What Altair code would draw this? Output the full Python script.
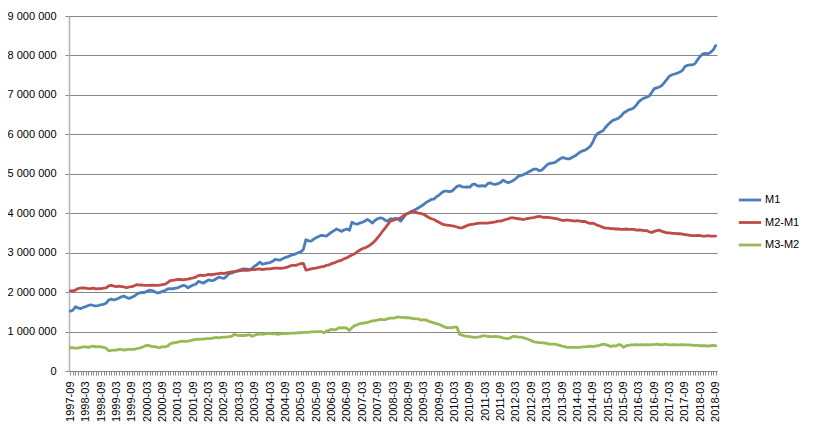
import altair as alt
import pandas as pd

# Values in thousands, monthly from 1997-09 to 2018-09 (one row = Sep..Aug)
m1 = [
    1520, 1540, 1630, 1600, 1580, 1610, 1630, 1660, 1680, 1660, 1650, 1660,
    1680, 1690, 1720, 1800, 1820, 1800, 1820, 1850, 1880, 1900, 1860, 1840,
    1870, 1900, 1950, 1980, 1990, 1990, 2020, 2050, 2040, 2010, 1980, 1990,
    2020, 2040, 2080, 2090, 2080, 2100, 2110, 2140, 2170, 2160, 2110, 2150,
    2180, 2200, 2270, 2250, 2230, 2270, 2310, 2290, 2300, 2340, 2380, 2360,
    2350, 2400, 2470, 2480, 2510, 2530, 2560, 2580, 2590, 2580, 2570, 2600,
    2660, 2700, 2760, 2710, 2720, 2740, 2750, 2780, 2830, 2820, 2810, 2850,
    2880, 2900, 2930, 2950, 2970, 3000, 3020, 3080, 3330, 3300, 3290, 3340,
    3380, 3410, 3440, 3430, 3420, 3470, 3520, 3560, 3600, 3570, 3540, 3580,
    3600, 3570, 3770, 3740, 3720, 3750, 3770, 3800, 3840, 3800, 3750, 3820,
    3860, 3880, 3870, 3820, 3800, 3860, 3850, 3870, 3850, 3800, 3880, 3970,
    4000, 4040, 4070, 4100, 4140, 4180, 4220, 4280, 4310, 4350, 4360, 4420,
    4460, 4520, 4560, 4560, 4550, 4560, 4620, 4680, 4700, 4670, 4660, 4670,
    4660, 4730, 4740, 4690, 4690, 4700, 4680, 4750, 4770, 4740, 4730, 4750,
    4780, 4840, 4800, 4770, 4800, 4830, 4880, 4940, 4960, 4980, 5010, 5050,
    5080, 5120, 5120, 5080, 5090, 5150, 5220, 5260, 5270, 5280, 5320, 5370,
    5410, 5400, 5380, 5380, 5420, 5450, 5500, 5550, 5580, 5600, 5640, 5700,
    5800, 5950, 6030, 6060, 6090, 6180, 6250, 6310, 6360, 6380, 6410, 6460,
    6540, 6580, 6620, 6640, 6670, 6740, 6830, 6880, 6920, 6940, 6970, 7060,
    7160, 7180, 7200, 7240, 7320, 7400, 7480, 7510, 7530, 7550, 7580, 7620,
    7720, 7750, 7760, 7760, 7800, 7900, 7980, 8040, 8050, 8040, 8080, 8140,
    8250,
]

m2_m1 = [
    2030, 2030, 2050, 2090, 2100, 2110, 2100, 2090, 2090, 2100, 2080, 2090,
    2090, 2100, 2110, 2160, 2170, 2150, 2140, 2150, 2140, 2130, 2110, 2130,
    2140, 2160, 2190, 2180, 2180, 2170, 2170, 2170, 2180, 2170, 2170, 2180,
    2190, 2200, 2240, 2290, 2300, 2310, 2320, 2320, 2310, 2320, 2330, 2350,
    2360, 2380, 2420, 2430, 2420, 2430, 2450, 2440, 2450, 2460, 2470, 2480,
    2470, 2490, 2500, 2510, 2520, 2530, 2540, 2550, 2560, 2550, 2560, 2570,
    2570, 2580, 2590, 2570, 2580, 2590, 2590, 2600, 2610, 2610, 2600, 2610,
    2620, 2640, 2670, 2680, 2680, 2700, 2720, 2730, 2560, 2570, 2590, 2600,
    2610, 2630, 2640, 2650, 2680, 2690, 2720, 2740, 2770, 2790, 2810, 2850,
    2870, 2910, 2940, 2970, 3020, 3060, 3100, 3120, 3150, 3190, 3240, 3300,
    3380, 3460, 3550, 3630, 3720, 3800, 3820, 3840, 3860, 3880, 3930, 3980,
    4000, 4030, 4050, 4020, 4000, 3990, 3970, 3930, 3890, 3860, 3840, 3800,
    3770, 3730, 3710, 3700, 3690, 3680, 3670, 3650, 3630, 3630, 3660, 3690,
    3710, 3720, 3730, 3740, 3750, 3750, 3750, 3750, 3760, 3770, 3780, 3800,
    3800, 3820, 3840, 3860, 3880, 3880, 3870, 3860, 3850, 3840, 3860, 3870,
    3880, 3890, 3910, 3920, 3910, 3890, 3900, 3890, 3880, 3870, 3860, 3840,
    3820, 3820, 3830, 3820, 3810, 3800, 3810, 3800, 3790, 3790, 3760, 3740,
    3750, 3720, 3690, 3670, 3640, 3620, 3620, 3610, 3610, 3600, 3600, 3590,
    3590, 3600, 3590, 3590, 3590, 3570, 3580, 3570, 3560, 3560, 3530, 3510,
    3540, 3560, 3570, 3540, 3520, 3500, 3500, 3490, 3490, 3480, 3480, 3470,
    3460, 3450, 3440, 3430, 3430, 3440, 3430, 3420, 3420, 3430, 3420, 3420,
    3420,
]

m3_m2 = [
    590, 590, 580, 580, 600, 610, 610, 600, 620, 630, 610, 620,
    610, 600, 580, 510, 520, 530, 530, 550, 550, 530, 540, 550,
    550, 550, 570, 580, 600, 630, 650, 640, 620, 620, 600, 590,
    620, 610, 630, 690, 710, 720, 730, 750, 760, 750, 760, 770,
    790, 800, 800, 810, 810, 820, 820, 830, 840, 850, 840, 850,
    860, 860, 870, 880, 930, 910, 900, 900, 900, 910, 920, 880,
    910, 930, 940, 930, 940, 950, 950, 940, 940, 930, 940, 950,
    950, 950, 960, 960, 960, 970, 970, 980, 980, 980, 990, 990,
    1000, 1000, 1000, 970, 1010, 1030, 1060, 1040, 1060, 1100, 1090, 1100,
    1080, 1030, 1100, 1150, 1170, 1200, 1210, 1220, 1230, 1250, 1270, 1280,
    1290, 1310, 1300, 1300, 1330, 1340, 1340, 1350, 1370, 1360, 1360, 1350,
    1350, 1340, 1330, 1320, 1320, 1290, 1300, 1290, 1260, 1240, 1220, 1200,
    1180, 1150, 1120, 1100, 1100, 1100, 1110, 1110, 930, 910, 890, 880,
    870, 860, 850, 860, 870, 890, 890, 880, 870, 870, 880, 870,
    860, 840, 830, 820, 850, 880, 870, 860, 860, 840, 820, 800,
    770, 740, 730, 720, 720, 710, 700, 680, 680, 680, 670, 650,
    630, 620, 600, 600, 600, 600, 600, 600, 610, 610, 620, 630,
    620, 630, 640, 660, 680, 670, 650, 620, 640, 630, 670, 660,
    600, 640, 650, 660, 660, 670, 660, 670, 660, 670, 660, 670,
    670, 680, 670, 660, 680, 670, 660, 660, 670, 660, 660, 670,
    660, 660, 660, 650, 650, 650, 640, 640, 640, 630, 640, 650,
    640,
]

series_names = ["M1", "M2-M1", "M3-M2"]
series_colors = ["#4A7EBB", "#BE4B48", "#98B954"]
months = [f"{1997 + (8 + i) // 12}-{(8 + i) % 12 + 1:02d}" for i in range(len(m1))]
y_ticks = [0, 1000000, 2000000, 3000000, 4000000, 5000000, 6000000, 7000000, 8000000, 9000000]

rows = []
for name, vals in zip(series_names, [m1, m2_m1, m3_m2]):
    for mo, v in zip(months, vals):
        rows.append({"month": mo, "series": name, "value": v * 1000})
df = pd.DataFrame(rows)

FONT = "Liberation Sans"

chart = alt.Chart(df).mark_line(strokeWidth=2.8, strokeJoin="round", strokeCap="round").encode(
    x=alt.X(
        "month:O",
        sort=months,
        title=None,
        scale=alt.Scale(type="point", padding=0.5),
        axis=alt.Axis(
            labelExpr="(slice(datum.value, 5) == '03' || slice(datum.value, 5) == '09') ? datum.value : ''",
            labelAngle=270,
            labelOverlap=False,
            labelPadding=6,
            labelFontSize=11,
            labelFont=FONT,
            labelColor="#000000",
            tickSize=4,
            tickColor="#868686",
            domainColor="#868686",
            grid=False,
        ),
    ),
    y=alt.Y(
        "value:Q",
        title=None,
        scale=alt.Scale(domain=[0, 9000000], nice=False),
        axis=alt.Axis(
            values=y_ticks,
            labelExpr="replace(replace(format(datum.value, ','), ',', ' '), ',', ' ')",
            labelFontSize=11,
            labelFont=FONT,
            labelColor="#000000",
            labelPadding=9,
            tickSize=4,
            tickColor="#868686",
            gridColor="#868686",
            gridWidth=1,
            domainColor="#b3b3b3",
            domainWidth=1.5,
        ),
    ),
    color=alt.Color(
        "series:N",
        scale=alt.Scale(domain=series_names, range=series_colors),
        legend=alt.Legend(
            title=None,
            orient="none",
            legendX=668,
            legendY=171,
            symbolType="stroke",
            symbolSize=500,
            symbolStrokeWidth=2.8,
            labelFontSize=11,
            labelFont=FONT,
            labelColor="#000000",
            labelOffset=2,
            rowPadding=3.5,
            padding=0,
        ),
    ),
).properties(
    width=648,
    height=355,
    autosize=alt.AutoSizeParams(type="none"),
    padding={"left": 61, "top": 8, "right": 90, "bottom": 60},
    background="white",
).configure_view(stroke=None)

chart.save("out.html", embed_options={"renderer": "svg", "actions": False})
